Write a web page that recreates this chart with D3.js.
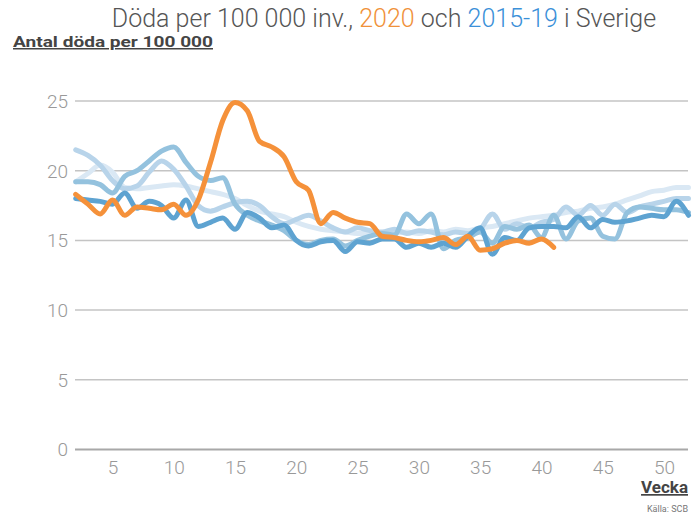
<!DOCTYPE html>
<html><head><meta charset="utf-8">
<script src="https://cdn.jsdelivr.net/npm/d3@7"></script>
<style>body{margin:0;background:#fff;}svg{display:block;}</style>
</head><body>
<svg id="chart" width="700" height="517"></svg>
<script>
const firstWeek = 2;
const xTicks = [5,10,15,20,25,30,35,40,45,50];
const yTicks = [0,5,10,15,20,25];

const y2020 = [18.3,17.6,16.9,17.9,16.8,17.4,17.3,17.2,17.6,16.8,17.9,20.6,23.6,24.9,24.3,22.1,21.7,21.0,19.2,18.6,
  16.2,17.0,16.6,16.3,16.2,15.3,15.2,15.0,14.9,15.0,15.2,14.7,15.3,14.3,14.4,14.8,15.0,14.8,15.1,14.5];

const blueDark = [18.0,17.9,17.8,17.6,18.4,17.3,17.8,17.5,16.6,17.9,16.0,16.3,16.6,15.8,17.0,16.6,15.9,16.1,15.0,14.6,
  14.9,15.0,14.2,14.9,14.8,15.1,15.1,14.5,14.8,14.5,14.8,14.5,15.3,15.9,14.0,15.2,15.0,15.9,16.0,16.0,
  15.9,16.7,15.9,16.5,16.3,16.4,16.6,16.8,16.7,17.8,16.8];

const blueMid = [19.2,19.2,19.0,18.4,19.6,20.0,20.7,21.4,21.7,20.6,19.6,19.3,19.5,17.6,16.8,16.4,16.1,15.7,15.0,14.7,
  15.0,15.1,14.6,15.0,15.3,15.5,15.4,16.9,16.2,16.9,14.4,15.0,15.2,15.6,14.8,16.0,15.8,16.1,15.2,16.8,
  15.1,16.4,16.6,15.3,15.1,17.0,17.4,17.3,17.2,17.2,17.0];

const blueLight = [21.5,21.1,20.4,19.3,18.7,18.9,19.9,20.7,20.1,18.9,17.5,17.1,17.4,17.7,17.8,17.5,16.7,16.2,16.5,16.8,
  16.4,15.9,15.6,15.9,15.7,15.6,15.8,15.5,15.7,15.6,15.4,15.6,15.5,15.8,16.9,15.8,16.2,15.9,16.3,16.5,
  17.4,16.8,17.5,16.8,17.6,17.0,17.4,17.6,17.8,18.0,18.0];

const bluePale = [19.2,19.8,20.4,19.9,18.8,18.7,18.8,18.9,19.0,18.9,18.7,18.5,18.3,18.0,17.5,17.1,16.9,16.7,16.3,16.0,
  15.8,15.7,15.6,15.5,15.5,15.4,15.5,15.6,15.5,15.7,15.6,15.8,15.7,15.9,16.0,16.2,16.4,16.6,16.7,16.8,
  17.0,17.1,17.3,17.4,17.6,17.9,18.2,18.5,18.6,18.8,18.8];

const svg = d3.select("#chart");
const x = d3.scaleLinear().domain([2,52]).range([75.7,688.5]);
const y = d3.scaleLinear().domain([0,25]).range([449.5,101]);

// gridlines
svg.append("g").selectAll("line").data(yTicks.filter(d=>d>0)).join("line")
  .attr("x1",75).attr("x2",688).attr("y1",d=>y(d)).attr("y2",d=>y(d))
  .attr("stroke","#c4c4c4").attr("stroke-width",1.5);
svg.append("line").attr("x1",75).attr("x2",688).attr("y1",y(0)).attr("y2",y(0))
  .attr("stroke","#a8a8a8").attr("stroke-width",2);

// y labels
svg.append("g").selectAll("text").data(yTicks).join("text")
  .attr("x",68).attr("y",d=>y(d)).attr("dy","0.36em").attr("text-anchor","end")
  .attr("font-family","Roboto").attr("font-weight",300).attr("font-size",19).attr("fill","#999")
  .text(d=>d);

// x axis
const xAxis = d3.axisBottom(x).tickValues(xTicks).tickSize(0).tickPadding(11);
const gx = svg.append("g").attr("transform",`translate(0,${y(0)})`).call(xAxis);
gx.select(".domain").remove();
gx.selectAll("text").attr("font-family","Roboto").attr("font-weight",300).attr("font-size",19).attr("fill","#999");

const line = d3.line().x((d,i)=>x(firstWeek+i)).y(d=>y(d)).curve(d3.curveMonotoneX);
const series = [
  {v: bluePale, c:"#dae8f4"},
  {v: blueLight, c:"#b8d4ea"},
  {v: blueMid, c:"#94c2de"},
  {v: blueDark, c:"#5ea3d1"},
  {v: y2020, c:"#f5913a"}
];
svg.append("g").selectAll("path").data(series).join("path")
  .attr("d",d=>line(d.v)).attr("fill","none").attr("stroke",d=>d.c)
  .attr("stroke-width",5).attr("stroke-linejoin","round").attr("stroke-linecap","round");

// title
const t = svg.append("text").attr("x",384).attr("y",27).attr("text-anchor","middle")
  .attr("font-family","Roboto").attr("font-weight",300).attr("font-size",25).attr("fill","#555");
t.append("tspan").text("Döda per 100 000 inv., ");
t.append("tspan").attr("fill","#f0913a").text("2020");
t.append("tspan").text(" och ");
t.append("tspan").attr("fill","#3b90d8").text("2015-19");
t.append("tspan").text(" i Sverige");

svg.append("text").attr("x",13).attr("y",47).attr("font-family","Roboto").attr("font-weight",700)
  .attr("font-size",15).attr("fill","#444").attr("text-decoration","underline")
  .attr("textLength",200).attr("lengthAdjust","spacingAndGlyphs").text("Antal döda per 100 000");

svg.append("text").attr("x",688).attr("y",493).attr("text-anchor","end").attr("font-family","Roboto")
  .attr("font-weight",700).attr("font-size",17).attr("fill","#444").attr("text-decoration","underline").text("Vecka");
svg.append("text").attr("x",688).attr("y",512).attr("text-anchor","end").attr("font-family","Roboto")
  .attr("font-size",9).attr("fill","#777").text("Källa: SCB");
</script>
</body></html>
